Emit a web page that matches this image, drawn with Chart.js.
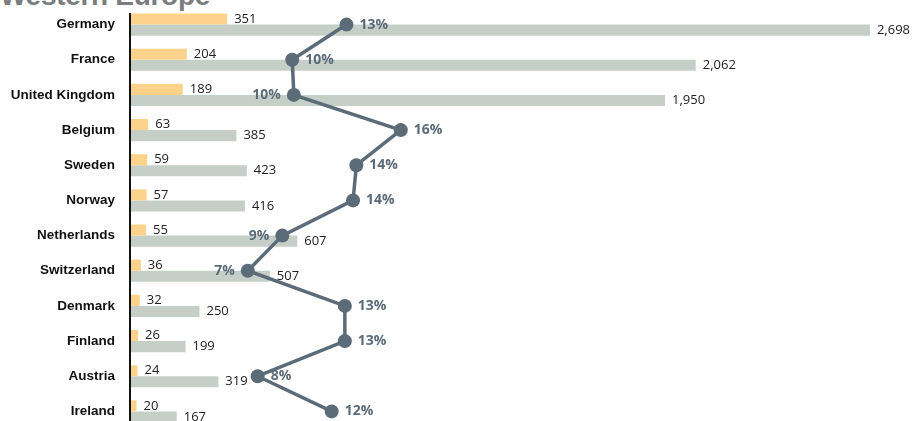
<!DOCTYPE html>
<html>
<head>
<meta charset="utf-8">
<script src="https://cdn.jsdelivr.net/npm/chart.js@4.4.0/dist/chart.umd.min.js"></script>
<style>
  body { margin: 0; background: #fff; overflow: hidden; width: 914px; height: 421px; position: relative; }
  #title { position: absolute; left: 0; top: -18px; font: bold 28px "Liberation Sans", Arial, sans-serif; color: #7a7c7e; line-height: 28px; letter-spacing: -0.3px; }
  #wrap { position: absolute; left: 0; top: 0; }
</style>
</head>
<body>
<div id="title">Western Europe</div>
<div id="wrap"><canvas id="myChart" width="914" height="429"></canvas></div>
<script>
// countries, top to bottom
const countries = ["Germany", "France", "United Kingdom", "Belgium", "Sweden", "Norway",
                   "Netherlands", "Switzerland", "Denmark", "Finland", "Austria", "Ireland"];

// small (orange) and large (gray) values
const smallValues = [351, 204, 189, 63, 59, 57, 55, 36, 32, 26, 24, 20];
const largeValues = [2698, 2062, 1950, 385, 423, 416, 607, 507, 250, 199, 319, 167];

// share in percent (the line)
const shareValues = [13.1, 9.8, 9.9, 16.4, 13.7, 13.5, 9.2, 7.1, 13.0, 13.0, 7.7, 12.2];

const orange = "#fdd38b";
const gray = "#c6cfc7";
const slate = "#5b6b78";

// which side of the point the % label goes
const leftSide = ["United Kingdom", "Netherlands", "Switzerland"];

const labelPlugin = {
    id: "labels",
    beforeDatasetsDraw(chart) {
        const ctx = chart.ctx;
        const area = chart.chartArea;
        ctx.save();
        ctx.strokeStyle = "#111";
        ctx.lineWidth = 2;
        ctx.beginPath();
        ctx.moveTo(area.left - 1, area.top + 6);
        ctx.lineTo(area.left - 1, area.bottom);
        ctx.stroke();
        ctx.restore();
    },
    afterDatasetsDraw(chart) {
        const ctx = chart.ctx;
        ctx.save();
        ctx.textBaseline = "middle";
        ctx.textAlign = "left";
        ctx.fillStyle = "#222";
        ctx.font = "13px 'Open Sans', sans-serif";
        [0, 1].forEach(d => {
            const meta = chart.getDatasetMeta(d);
            meta.data.forEach((bar, i) => {
                const v = chart.data.datasets[d].data[i];
                ctx.fillText(v.toLocaleString("en-US"), bar.x + 7, bar.y);
            });
        });
        // percent labels
        ctx.font = "bold 14px 'Open Sans', sans-serif";
        ctx.fillStyle = slate;
        const lineMeta = chart.getDatasetMeta(2);
        lineMeta.data.forEach((pt, i) => {
            const txt = Math.round(shareValues[i]) + "%";
            if (leftSide.includes(countries[i])) {
                ctx.textAlign = "right";
                ctx.fillText(txt, pt.x - 13, pt.y);
            } else {
                ctx.textAlign = "left";
                ctx.fillText(txt, pt.x + 13, pt.y);
            }
        });
        ctx.restore();
    }
};

const config = {
    data: {
        labels: countries,
        datasets: [
            {
                type: "bar",
                label: "small",
                data: smallValues,
                backgroundColor: orange,
                xAxisID: "x",
                categoryPercentage: 0.63,
                barPercentage: 1,
                order: 2
            },
            {
                type: "bar",
                label: "large",
                data: largeValues,
                backgroundColor: gray,
                xAxisID: "x",
                categoryPercentage: 0.63,
                barPercentage: 1,
                order: 2
            },
            {
                type: "line",
                label: "share",
                data: shareValues,
                xAxisID: "xp",
                indexAxis: "y",
                borderColor: slate,
                backgroundColor: slate,
                borderWidth: 3.5,
                pointRadius: 7,
                pointHoverRadius: 7,
                pointBackgroundColor: slate,
                pointBorderWidth: 0,
                tension: 0,
                clip: false,
                order: 1
            }
        ]
    },
    options: {
        indexAxis: "y",
        responsive: false,
        animation: false,
        devicePixelRatio: 1,
        layout: { autoPadding: false, padding: { top: 7, right: 0, bottom: 0, left: 0 } },
        plugins: {
            legend: { display: false },
            tooltip: { enabled: false }
        },
        scales: {
            x: {
                display: false,
                min: 0,
                max: 2859
            },
            xp: {
                display: false,
                min: 0,
                max: 47.6
            },
            y: {
                grid: { display: false, drawTicks: false },
                border: { display: false },
                ticks: {
                    color: "#111",
                    padding: 16,
                    font: { family: "'Liberation Sans', Arial, sans-serif", weight: "bold", size: 13.5 }
                },
                afterFit(scale) {
                    scale.width = 131;
                    scale.paddingTop = 0;
                    scale.paddingBottom = 0;
                }
            }
        }
    },
    plugins: [labelPlugin]
};

const myChart = new Chart(document.getElementById("myChart"), config);
</script>
</body>
</html>
